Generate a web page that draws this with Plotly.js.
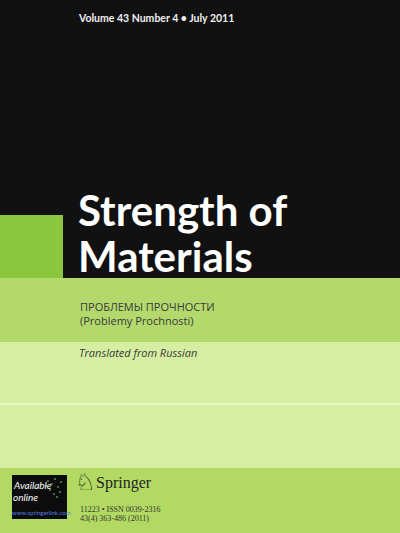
<!DOCTYPE html>
<html>
<head>
<meta charset="utf-8">
<script src="https://cdn.plot.ly/plotly-3.0.1.min.js"></script>
<style>
  html, body { margin: 0; padding: 0; background: #111; }
  #cover { width: 400px; height: 533px; }
</style>
</head>
<body>
<div id="cover"></div>
<script>
// Cover bands, top to bottom (page units, y grows downward)
const bandTop    = [0, 278, 342, 468];
const bandBottom = [278, 342, 468, 533];
const bandColor  = ['#111111', '#b3d96c', '#d6eea2', '#b2da62'];

// Green block on the left of the title
const blockX = [0, 63];
const blockY = [215, 278];
const blockColor = '#8cc63f';

// thin white rule in the light band
const ruleY = 404;

// "Available online" box
const boxX = [12, 67];
const boxY = [475, 519];

// Text lines: [text, x, y, size, colour, family, weight, style]
const textLines = [
    ['Volume 43 Number 4 • July 2011', 77, 18, 10.5, '#f0f0f0', 'Lato', 700, 'normal'],
    ['Strength of', 77, 210, 42, '#ffffff', 'Lato', 700, 'normal'],
    ['Materials', 77, 256, 42, '#ffffff', 'Lato', 700, 'normal'],
    ['ПРОБЛЕМЫ ПРОЧНОСТИ', 79, 306, 11, '#3a3a3a', 'Open Sans', 400, 'normal'],
    ['(Problemy Prochnosti)', 79, 320, 11, '#3a3a3a', 'Open Sans', 400, 'normal'],
    ['Translated from Russian', 78, 352, 11, '#3a3a3a', 'Open Sans', 400, 'italic'],
    ['♘', 74, 482, 23, '#222222', 'DejaVu Sans', 400, 'normal'],
    ['Springer', 95, 483, 16, '#222222', 'Liberation Serif', 400, 'normal'],
    ['11223 • ISSN 0039-2316', 79, 509, 8, '#333333', 'Liberation Serif', 400, 'normal'],
    ['43(4) 363-486 (2011)', 79, 518, 8, '#333333', 'Liberation Serif', 400, 'normal'],
    ['Available', 12, 485, 10, '#ffffff', 'Lato', 400, 'italic'],
    ['online', 12, 497, 10, '#ffffff', 'Lato', 400, 'italic'],
    ['www.springerlink.com', 11, 512, 6, '#4f7fe0', 'Lato', 400, 'normal']
];

// sparkle dots inside the online box
const sparkX = [48, 52, 55, 58, 50, 61, 54, 57, 46, 60];
const sparkY = [481, 484, 479, 487, 490, 482, 494, 497, 486, 492];

function buildShapes() {
    const shapes = [];
    for (let i = 0; i < bandTop.length; i++) {
        shapes.push({
            type: 'rect', xref: 'x', yref: 'y', layer: 'below',
            x0: 0, x1: 400, y0: bandTop[i], y1: bandBottom[i],
            fillcolor: bandColor[i], line: { width: 0 }
        });
    }
    shapes.push({
        type: 'rect', xref: 'x', yref: 'y', layer: 'below',
        x0: blockX[0], x1: blockX[1], y0: blockY[0], y1: blockY[1],
        fillcolor: blockColor, line: { width: 0 }
    });
    shapes.push({
        type: 'line', xref: 'x', yref: 'y',
        x0: 0, x1: 400, y0: ruleY, y1: ruleY,
        line: { color: '#f4fbe6', width: 1.2 }
    });
    shapes.push({
        type: 'rect', xref: 'x', yref: 'y', layer: 'below',
        x0: boxX[0], x1: boxX[1], y0: boxY[0], y1: boxY[1],
        fillcolor: '#0c0c0c', line: { width: 0 }
    });
    return shapes;
}

function buildAnnotations() {
    return textLines.map(t => ({
        text: t[0], x: t[1], y: t[2], xref: 'x', yref: 'y',
        xanchor: 'left', yanchor: 'middle', showarrow: false, borderpad: 0,
        font: { size: t[3], color: t[4], family: t[5], weight: t[6], style: t[7] }
    }));
}

function drawCover() {
    const sparkle = {
        x: sparkX, y: sparkY, mode: 'markers', type: 'scatter',
        marker: { size: 2, color: '#6fae6a', opacity: 0.8 },
        hoverinfo: 'skip', showlegend: false
    };
    const layout = {
        width: 400, height: 533,
        margin: { l: 0, r: 0, t: 0, b: 0 },
        paper_bgcolor: '#111111', plot_bgcolor: 'rgba(0,0,0,0)',
        xaxis: { range: [0, 400], visible: false, fixedrange: true },
        yaxis: { range: [533, 0], visible: false, fixedrange: true },
        shapes: buildShapes(),
        annotations: buildAnnotations(),
        showlegend: false
    };
    Plotly.newPlot('cover', [sparkle], layout, { staticPlot: true });
}

document.addEventListener('DOMContentLoaded', drawCover);
</script>
</body>
</html>
